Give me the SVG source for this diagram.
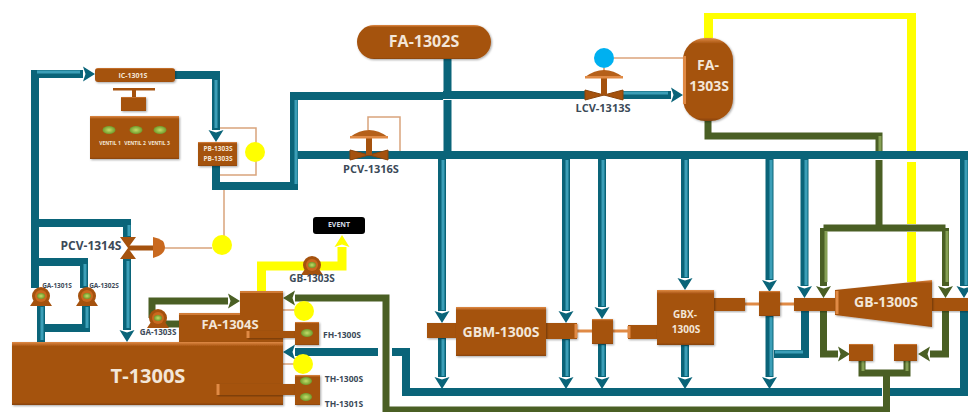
<svg xmlns="http://www.w3.org/2000/svg" width="968" height="412" viewBox="0 0 968 412">
<style>
text{font-family:"Open Sans","Liberation Sans",sans-serif;font-weight:700;text-anchor:middle}
.w{fill:#f3e6d8}
.d{fill:#3c4a58}
.p{fill:none;stroke-linejoin:miter}
.t{stroke:#0a6479;stroke-width:8}
.th{stroke:#3c9fb8;stroke-width:3;fill:none}
.g{stroke:#4a5f24;stroke-width:7}
.gh{stroke:#86a055;stroke-width:3;fill:none}
.y{stroke:#ffff00;stroke-width:9}
.l{stroke:#d9a47c;stroke-width:1.5;fill:none}
.b{fill:url(#br);filter:url(#sh)}
.bar{fill:#a5520e;filter:url(#sh)}
.thin{stroke:#e08a45;stroke-width:3}
.cap{stroke:#e08a45;stroke-width:3;fill:none}
.led{fill:url(#lg)}
.yc{fill:#ffff00}
</style>
<defs>
<linearGradient id="br" x1="0" y1="0" x2="0" y2="1"><stop offset="0" stop-color="#e08a45"/><stop offset=".07" stop-color="#a5520e"/><stop offset=".96" stop-color="#a5520e"/><stop offset="1" stop-color="#85420a"/></linearGradient>
<radialGradient id="lg"><stop offset="0" stop-color="#c4dd6a"/><stop offset="1" stop-color="#6f9a2a"/></radialGradient>
<filter id="sh" x="-10%" y="-10%" width="125%" height="125%"><feDropShadow dx="1" dy="1" stdDeviation="1" flood-color="#000" flood-opacity=".35"/></filter>
<marker id="at" markerUnits="userSpaceOnUse" markerWidth="14" markerHeight="18" refX="0" refY="9" orient="auto"><path d="M0 1.500L12 9L0 16.500L2.500 9Z" fill="#0a6479"/></marker>
<marker id="ag" markerUnits="userSpaceOnUse" markerWidth="14" markerHeight="18" refX="0" refY="9" orient="auto"><path d="M0 1.500L12 9L0 16.500L2.500 9Z" fill="#4a5f24"/></marker>
<marker id="ay" markerUnits="userSpaceOnUse" markerWidth="14" markerHeight="18" refX="0" refY="9" orient="auto"><path d="M0 1.500L12 9L0 16.500L2.500 9Z" fill="#ffff00"/></marker>
<g id="pump"><path d="M-11 10L-7 4H7L11 10Z" fill="#a5520e"/><circle r="9" fill="#a5520e"/><circle r="6" fill="#c9691f"/><ellipse rx="4" ry="3" class="led"/></g>
<g id="valve"><path d="M-19 -5L0 0L-19 5ZM19 -5L0 0L19 5Z" fill="#a5520e" stroke="#8a440b" stroke-width="1"/><rect x="-3" y="-20" width="6" height="20" fill="#a5520e"/><path d="M-19 -18Q0 -32 19 -18Z" fill="#b5601a"/><rect x="-19" y="-19" width="38" height="2.500" fill="#e08a45"/></g>
</defs>
<rect width="968" height="412" fill="#fff"/>
<g id="connectors">
<path class="l" d="M220 128H256V175H220M224 186V248M164 248H212M368 130V117H400V153M283 310H296M283 364H294"/>
<path d="M604 68V72M614 58H683" fill="none" stroke="#c9763a" stroke-width="1.200"/>
<path class="p y" d="M708.500 38V13"/>
<path class="p" stroke="#ffff00" stroke-width="6" d="M704 16H916"/>
<path class="p y" d="M911.500 13V151M911.500 162V224M911.500 232V282"/>
<path class="p y" d="M261.500 291V266H342V247" marker-end="url(#ay)"/>
<path class="p g" d="M708 120V136H879V153M879 160V228M823.500 228H945.500"/>
<path class="p g" d="M823.500 228V286" marker-end="url(#ag)"/>
<path class="p g" d="M945.500 228V286" marker-end="url(#ag)"/>
<path class="p g" d="M823.500 311V354H838" marker-end="url(#ag)"/>
<path class="p g" d="M945.500 311V354H930" marker-end="url(#ag)"/>
<path class="p g" d="M862 361V373H907V361M886.500 373V410H386V298H295" marker-end="url(#ag)"/>
<path class="p g" d="M152 318V301H228" marker-end="url(#ag)"/>
<path class="p g" d="M164 324H180"/>
<path class="gh" d="M826 231V282M947 231V282M880 136V151M863 361V371M907 361V371"/>
<path class="p t" d="M35 288V74H83" marker-end="url(#at)"/>
<path class="p t" d="M175 75H216V130" marker-end="url(#at)"/>
<path class="p t" d="M216 166V186H294V96H443"/>
<path class="p t" d="M35 223H127V237M35 262H84V288M41 305V342M41 328H86V305"/>
<path class="p t" d="M127 259V330" marker-end="url(#at)"/>
<path class="p t" d="M447.500 59V91M447.500 100V155"/>
<path class="p t" d="M298 155H968"/>
<path class="p t" d="M443 95H585"/>
<path class="p t" d="M623 95H671" marker-end="url(#at)"/>
<path class="p t" d="M442 158V311" marker-end="url(#at)"/>
<path class="p t" d="M442 338V377" marker-end="url(#at)"/>
<path class="p t" d="M566 158V311" marker-end="url(#at)"/>
<path class="p t" d="M566 339V377" marker-end="url(#at)"/>
<path class="p t" d="M602 158V307" marker-end="url(#at)"/>
<path class="p t" d="M602 344V377" marker-end="url(#at)"/>
<path class="p t" d="M685 158V278" marker-end="url(#at)"/>
<path class="p t" d="M685 345V377" marker-end="url(#at)"/>
<path class="p t" d="M769.500 158V280" marker-end="url(#at)"/>
<path class="p t" d="M769.500 316V377" marker-end="url(#at)"/>
<path class="p t" d="M804.500 158V286" marker-end="url(#at)"/>
<path class="p t" d="M805 311V354H774"/>
<path class="p t" d="M964 158V286" marker-end="url(#at)"/>
<path class="p t" d="M964 311V392H890M882 392H406V352H392"/>
<path class="p t" d="M378 352H295" marker-end="url(#at)"/>
<path class="th" d="M37 72H80M216 80V128M296 100V184M42 307V340M87 307V328M128 261V328M129 225V236M85 264V286M443 160V310M443 339V376M567 160V310M567 340V376M603 160V306M603 345V376M686 160V277M686 346V376M771 160V279M771 317V376M806 160V285M966 160V285M623 93H668M775 352H803"/>
<path class="thin" d="M577 331H592M613 331H628M745 304H759M780 304H794"/>
</g>
<g id="FA-1302S"><rect class="b" x="357" y="25" width="134" height="34" rx="17"/><text class="w" x="424" y="47" font-size="16">FA-1302S</text></g>
<g id="FA-1303S"><rect class="b" x="683" y="38" width="50" height="83" rx="22"/><path class="cap" d="M684.500 56V104"/><text class="w" x="708" y="70" font-size="14">FA-</text><text class="w" x="709" y="91" font-size="14">1303S</text></g>
<g id="IC-1301S"><rect class="b" x="95" y="68" width="80" height="14" rx="3"/><text class="w" x="133" y="78" font-size="7">IC-1301S</text></g>
<g id="HS-1301S"><rect x="113" y="88" width="42" height="2.500" fill="#a5520e"/><rect x="132" y="89" width="4" height="10" fill="#a5520e"/><rect class="b" x="121" y="97" width="25" height="14"/></g>
<g id="panel"><rect class="b" x="90" y="116" width="89" height="43"/><ellipse class="led" cx="109" cy="130" rx="6.500" ry="4"/><ellipse class="led" cx="136" cy="130" rx="6.500" ry="4"/><ellipse class="led" cx="160" cy="130" rx="6.500" ry="4"/><text class="w" x="110" y="145" font-size="5">VENTIL 1</text><text class="w" x="135" y="145" font-size="5">VENTIL 2</text><text class="w" x="159" y="145" font-size="5">VENTIL 3</text></g>
<g id="PB-1303S"><rect class="b" x="198" y="142" width="39" height="24"/><text class="w" x="218" y="151" font-size="6.500">PB-1303S</text><text class="w" x="218" y="161" font-size="6.500">PB-1303S</text><circle class="yc" cx="255" cy="152" r="10"/></g>
<g id="indicator-1"><circle class="yc" cx="222" cy="245" r="10"/></g>
<g id="PCV-1314S"><path d="M120 237H136L128 248L136 259H120L128 248Z" fill="#a5520e"/><rect x="128" y="245.500" width="26" height="5" fill="#a5520e"/><path d="M153 237Q165 239 165 247Q165 255 153 258Z" fill="#c9691f"/><text class="d" x="91" y="250" font-size="12">PCV-1314S</text></g>
<g id="PCV-1316S"><use href="#valve" x="369" y="155"/><text class="d" x="371" y="173" font-size="11">PCV-1316S</text></g>
<g id="LCV-1313S"><use href="#valve" x="604" y="95"/><circle cx="604" cy="58" r="10" fill="#00b0f0"/><text class="d" x="603" y="112" font-size="11">LCV-1313S</text></g>
<g id="GA-1301S"><use href="#pump" x="41" y="296"/><text class="d" x="57" y="288" font-size="6.500">GA-1301S</text></g>
<g id="GA-1302S"><use href="#pump" x="87" y="296"/><text class="d" x="104" y="288" font-size="6.500">GA-1302S</text></g>
<g id="GA-1303S"><use href="#pump" x="158" y="318"/><text class="d" x="158" y="335" font-size="8">GA-1303S</text></g>
<g id="GB-1303S"><use href="#pump" x="312" y="265"/><text class="d" x="312" y="282" font-size="10">GB-1303S</text></g>
<g id="EVENT"><rect x="313" y="217" width="52" height="17" rx="3" fill="#000"/><text x="339" y="227" font-size="7" fill="#d5dce6">EVENT</text></g>
<g id="FA-1304S"><path class="bar" d="M179 342V313H240V291H283V342Z"/><path d="M179 314H240M240 292H283" stroke="#e08a45" stroke-width="1.500"/><text class="w" x="230" y="329" font-size="13">FA-1304S</text></g>
<g id="FH-1300S"><rect class="bar" x="247" y="331" width="48" height="7"/><path class="cap" d="M248 331V338"/><rect class="b" x="295" y="322" width="24" height="23"/><ellipse class="led" cx="307" cy="333" rx="6" ry="4"/><circle class="yc" cx="304" cy="311" r="10"/><text class="d" x="342" y="338" font-size="8.500">FH-1300S</text></g>
<g id="T-1300S"><rect class="b" x="12" y="342" width="271" height="63"/><text class="w" x="148" y="383" font-size="20">T-1300S</text></g>
<g id="TH-1300S"><rect class="bar" x="217" y="384" width="78" height="11"/><path class="cap" d="M218 384V395"/><rect class="b" x="295" y="375" width="25" height="30"/><ellipse class="led" cx="306" cy="381" rx="6" ry="4"/><ellipse class="led" cx="306" cy="397" rx="6" ry="4"/><circle class="yc" cx="303" cy="364" r="10"/><text class="d" x="344" y="382" font-size="8.500">TH-1300S</text><text class="d" x="344" y="407" font-size="8.500">TH-1301S</text></g>
<g id="GBM-1300S"><rect class="bar" x="427" y="323" width="30" height="15"/><rect class="bar" x="546" y="323" width="31" height="16"/><path class="cap" d="M576 324V338"/><rect class="b" x="456" y="307" width="90" height="49"/><text class="w" x="501" y="337" font-size="14">GBM-1300S</text></g>
<g id="coupling-1"><rect class="b" x="592" y="319" width="21" height="25"/></g>
<g id="GBX-1300S"><rect class="bar" x="628" y="325" width="30" height="14"/><path class="cap" d="M629 326V338"/><rect class="bar" x="714" y="298" width="31" height="13"/><rect class="b" x="657" y="290" width="57" height="55"/><text class="w" x="685" y="318" font-size="10">GBX-</text><text class="w" x="686" y="333" font-size="10">1300S</text></g>
<g id="coupling-2"><rect class="b" x="759" y="291" width="21" height="25"/></g>
<g id="GB-1300S"><rect class="bar" x="794" y="298" width="42" height="13"/><rect class="bar" x="932" y="298" width="36" height="13"/><path class="b" d="M835 290L932 280V327L835 315Z"/><path class="cap" d="M837 291V314"/><text class="w" x="886" y="307" font-size="14">GB-1300S</text></g>
<g id="seal-1"><rect class="b" x="849" y="344" width="24" height="17"/></g>
<g id="seal-2"><rect class="b" x="894" y="344" width="23" height="17"/></g>
</svg>
